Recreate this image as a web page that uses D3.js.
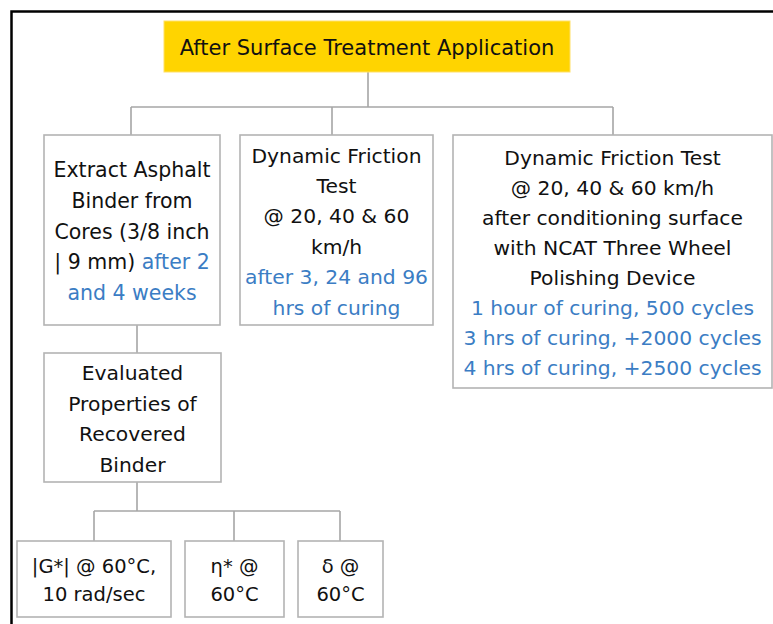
<!DOCTYPE html>
<html>
<head>
<meta charset="utf-8">
<script src="https://cdn.jsdelivr.net/npm/d3@7"></script>
<style>
  body { margin: 0; background: #fff; }
  text { font-family: "DejaVu Sans", sans-serif; }
</style>
</head>
<body>
<div id="chart-area"></div>
<script>
// text of every box, line by line; "b" marks the blue parts
let titleLines = [[["After Surface Treatment Application"]]];

let extractLines = [
    [["Extract Asphalt"]],
    [["Binder from"]],
    [["Cores (3/8 inch"]],
    [["| 9 mm) "], ["after 2", "b"]],
    [["and 4 weeks", "b"]]
];

let frictionLines = [
    [["Dynamic Friction"]],
    [["Test"]],
    [["@ 20, 40 & 60"]],
    [["km/h"]],
    [["after 3, 24 and 96", "b"]],
    [["hrs of curing", "b"]]
];

let polishLines = [
    [["Dynamic Friction Test"]],
    [["@ 20, 40 & 60 km/h"]],
    [["after conditioning surface"]],
    [["with NCAT Three Wheel"]],
    [["Polishing Device"]],
    [["1 hour of curing, 500 cycles", "b"]],
    [["3 hrs of curing, +2000 cycles", "b"]],
    [["4 hrs of curing, +2500 cycles", "b"]]
];

let evaluatedLines = [
    [["Evaluated"]],
    [["Properties of"]],
    [["Recovered"]],
    [["Binder"]]
];

let gLines = [[["|G*| @ 60°C,"]], [["10 rad/sec"]]];
let etaLines = [[["η* @"]], [["60°C"]]];
let deltaLines = [[["δ @"]], [["60°C"]]];

let nodes = [
    {id: "title", lines: titleLines},
    {id: "extract", lines: extractLines},
    {id: "friction", lines: frictionLines},
    {id: "polish", lines: polishLines},
    {id: "evaluated", lines: evaluatedLines},
    {id: "g", lines: gLines},
    {id: "eta", lines: etaLines},
    {id: "delta", lines: deltaLines}
];

// parent -> children
let links = [
    {from: "title", to: ["extract", "friction", "polish"]},
    {from: "extract", to: ["evaluated"]},
    {from: "evaluated", to: ["g", "eta", "delta"]}
];

// layout of the boxes (px)
let layout = {
    title:     {x: 164, y: 21,  w: 406, h: 51,  lh: 30,   fs: 21},
    extract:   {x: 44,  y: 135, w: 176, h: 190, lh: 30.7, fs: 20.5},
    friction:  {x: 240, y: 135, w: 193, h: 190, lh: 30.4, fs: 20.3},
    polish:    {x: 453, y: 135, w: 319, h: 253, lh: 30.1, fs: 20.3},
    evaluated: {x: 44,  y: 353, w: 177, h: 129, lh: 30.7, fs: 20.3},
    g:         {x: 17,  y: 541, w: 154, h: 76,  lh: 28,   fs: 19.5},
    eta:       {x: 185, y: 541, w: 99,  h: 76,  lh: 28,   fs: 19.5},
    delta:     {x: 298, y: 541, w: 85,  h: 76,  lh: 28,   fs: 19.5}
};

// where the connector buses sit
let buses = {
    title:     {y: 107, stem: 368, drops: {extract: 131, friction: 332, polish: 613}},
    extract:   {y: 339, stem: 137, drops: {evaluated: 137}},
    evaluated: {y: 511, stem: 137, drops: {g: 94, eta: 234, delta: 340}}
};

let width = 773, height = 624;

let svg = d3.select("#chart-area").append("svg")
    .attr("width", width)
    .attr("height", height);

// outer frame, right and bottom edges fall outside the picture
svg.append("rect")
    .attr("x", 11.5)
    .attr("y", 11.5)
    .attr("width", width + 20)
    .attr("height", height + 20)
    .attr("fill", "none")
    .attr("stroke", "#000")
    .attr("stroke-width", 2.5);

// connectors
links.forEach(function(l) {
    let p = layout[l.from], bus = buses[l.from];
    let xs = l.to.map(c => bus.drops[c]);
    let path = d3.path();
    path.moveTo(bus.stem, p.y + p.h);
    path.lineTo(bus.stem, bus.y);
    if (xs.length > 1) {
        path.moveTo(d3.min(xs), bus.y);
        path.lineTo(d3.max(xs), bus.y);
    }
    l.to.forEach(function(c) {
        path.moveTo(bus.drops[c], bus.y);
        path.lineTo(bus.drops[c], layout[c].y);
    });
    svg.append("path")
        .attr("d", path.toString())
        .attr("fill", "none")
        .attr("stroke", "#a6a6a6")
        .attr("stroke-width", 1.6);
});

// boxes
let boxes = svg.selectAll(".box")
    .data(nodes)
    .enter()
    .append("g")
    .attr("class", "box");

boxes.append("rect")
    .attr("x", d => layout[d.id].x)
    .attr("y", d => layout[d.id].y)
    .attr("width", d => layout[d.id].w)
    .attr("height", d => layout[d.id].h)
    .attr("fill", d => d.id == "title" ? "#ffd400" : "#fff")
    .attr("stroke", d => d.id == "title" ? "#ffe066" : "#b3b3b3")
    .attr("stroke-width", d => d.id == "title" ? 1 : 1.6);

boxes.each(function(d) {
    let L = layout[d.id];
    let cx = L.x + L.w / 2;
    let y0 = L.y + L.h / 2 + 1.5 - (d.lines.length - 1) * L.lh / 2;
    let g = d3.select(this);
    d.lines.forEach(function(line, i) {
        let t = g.append("text")
            .attr("x", cx)
            .attr("y", y0 + i * L.lh)
            .attr("dy", "0.35em")
            .attr("text-anchor", "middle")
            .attr("font-size", L.fs)
            .attr("fill", "#111");
        line.forEach(function(seg) {
            t.append("tspan")
                .attr("fill", seg[1] == "b" ? "#3b7dc4" : "#111")
                .text(seg[0]);
        });
    });
});
</script>
</body>
</html>
